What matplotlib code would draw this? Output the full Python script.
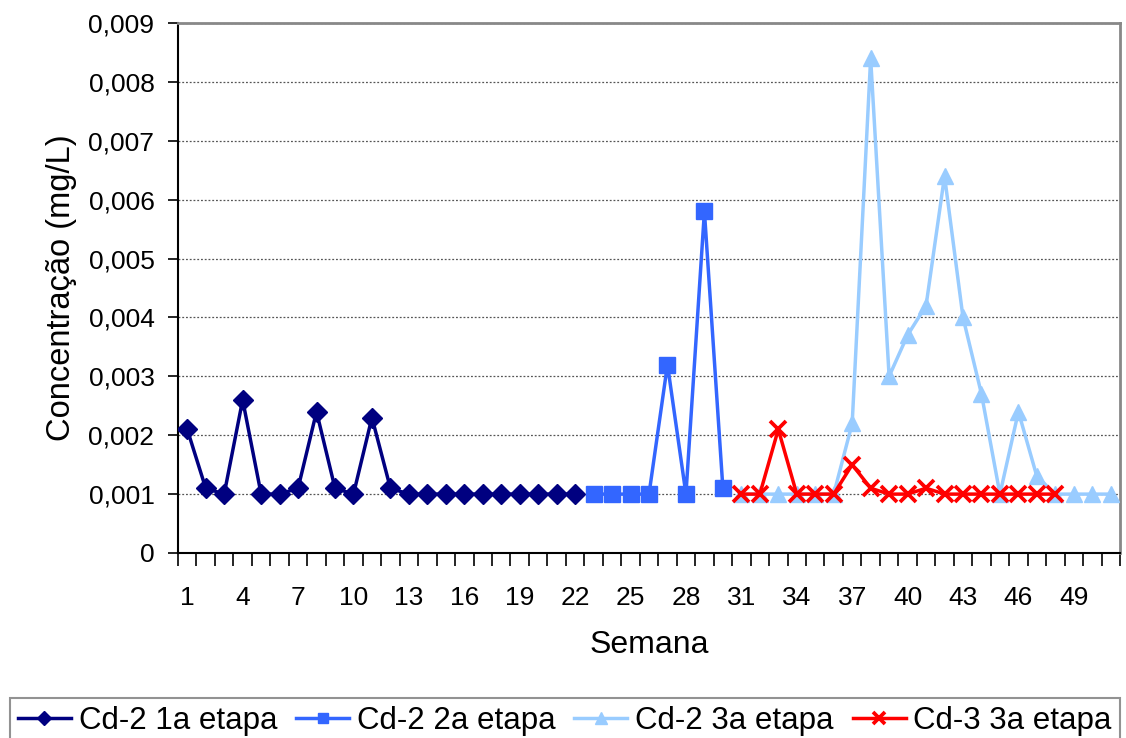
import matplotlib.pyplot as plt
from matplotlib.ticker import FixedLocator, FuncFormatter, MultipleLocator

plt.rcParams['font.family'] = ['Liberation Sans', 'DejaVu Sans']

# === DATA ===
semanas_1a = list(range(1, 23))
cd2_1a = [0.0021, 0.0011, 0.0010, 0.0026, 0.0010, 0.0010, 0.0011, 0.0024,
          0.0011, 0.0010, 0.0023, 0.0011, 0.0010, 0.0010, 0.0010, 0.0010,
          0.0010, 0.0010, 0.0010, 0.0010, 0.0010, 0.0010]

semanas_2a = list(range(23, 31))
cd2_2a = [0.0010, 0.0010, 0.0010, 0.0010, 0.0032, 0.0010, 0.0058, 0.0011]

semanas_3a = list(range(31, 52))
cd2_3a = [0.0010, 0.0010, 0.0010, 0.0010, 0.0010, 0.0010, 0.0022, 0.0084,
          0.0030, 0.0037, 0.0042, 0.0064, 0.0040, 0.0027, 0.0010, 0.0024,
          0.0013, 0.0010, 0.0010, 0.0010, 0.0010]

semanas_cd3 = list(range(31, 49))
cd3_3a = [0.0010, 0.0010, 0.0021, 0.0010, 0.0010, 0.0010, 0.0015, 0.0011,
          0.0010, 0.0010, 0.0011, 0.0010, 0.0010, 0.0010, 0.0010, 0.0010,
          0.0010, 0.0010]

n_semanas = 51
rotulos_x = list(range(1, 50, 3))
# ============

fig = plt.figure(figsize=(11.26, 7.38), dpi=100)
ax = fig.add_axes([178 / 1126, 1 - 553 / 738, (1120 - 178) / 1126, (553 - 23) / 738])

lw = 2.5
ax.plot(semanas_1a, cd2_1a, color='#000080', lw=lw, marker='D', ms=10.5,
        label='Cd-2 1a etapa', zorder=3)
ax.plot(semanas_2a, cd2_2a, color='#3366FF', lw=lw, marker='s', ms=11,
        label='Cd-2 2a etapa', zorder=3)
ax.plot(semanas_3a, cd2_3a, color='#99CCFF', lw=lw, marker='^', ms=12,
        label='Cd-2 3a etapa', zorder=3)
ax.plot(semanas_cd3, cd3_3a, color='#FF0000', lw=lw, marker='x', ms=12, mew=2.7,
        label='Cd-3 3a etapa', zorder=4)

ax.set_xlim(0.5, n_semanas + 0.5)
ax.set_ylim(0, 0.009)

# category axis: ticks on the boundaries, labels every 3 weeks
ax.xaxis.set_major_locator(FixedLocator(rotulos_x))
ax.xaxis.set_minor_locator(MultipleLocator(1, offset=0.5))
ax.tick_params(axis='x', which='major', length=0, pad=24, labelsize=19)
ax.tick_params(axis='x', which='minor', length=9, width=1.2, color='black')

ax.yaxis.set_major_locator(MultipleLocator(0.001))
ax.yaxis.set_major_formatter(FuncFormatter(
    lambda v, p: '0' if abs(v) < 1e-12 else f'{v:.3f}'.replace('.', ',')))
ax.tick_params(axis='y', length=7, width=1.2, pad=10, labelsize=19)

ax.grid(axis='y', linestyle=(0, (1.5, 1.5)), color='#555555', lw=0.9)
ax.set_axisbelow(True)

for s in ['left', 'bottom']:
    ax.spines[s].set_color('black')
    ax.spines[s].set_linewidth(1.5)
for s in ['top', 'right']:
    ax.spines[s].set_color('#888888')
    ax.spines[s].set_linewidth(2)

ax.set_xlabel('Semana', fontsize=23, labelpad=14)
ax.set_ylabel('Concentração (mg/L)', fontsize=23.5, labelpad=8)

leg = fig.legend(loc='upper left', bbox_to_anchor=(10 / 1126, 1 - 698 / 738),
                 ncol=4, fontsize=22.5, frameon=True, fancybox=False,
                 edgecolor='#777777', borderaxespad=0, handlelength=1.7,
                 handletextpad=0.25, columnspacing=0.6, borderpad=0.25,
                 markerscale=0.7)
leg.get_frame().set_linewidth(1.5)

fig.savefig('out.png', dpi=100)
